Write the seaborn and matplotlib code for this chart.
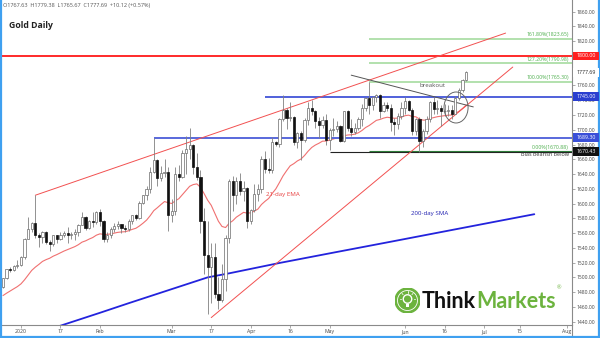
import numpy as np
import pandas as pd
import matplotlib
matplotlib.use("Agg")
import matplotlib.pyplot as plt
import matplotlib.transforms as mtransforms
from matplotlib.patches import Ellipse, Circle, Rectangle
from matplotlib.lines import Line2D
import seaborn as sns

# ---------------- data ----------------
holidays = ["2019-12-25", "2020-01-01"]
axis_dates = [d for d in pd.bdate_range("2019-12-24", "2020-08-07") if d.strftime("%Y-%m-%d") not in holidays]
n_bars = 130  # 2019-12-24 .. 2020-06-24

opens = [1486.5, 1499.0, 1511.0, 1510.5, 1515.0, 1517.0, 1528.0, 1552.0, 1566.0, 1574.0,
         1558.0, 1555.0, 1562.0, 1548.0, 1545.0, 1557.0, 1552.0, 1557.0, 1560.0, 1558.0,
         1558.5, 1562.0, 1571.0, 1582.0, 1567.0, 1576.0, 1575.0, 1589.0, 1577.0, 1552.0,
         1557.0, 1566.0, 1570.0, 1572.0, 1567.0, 1565.0, 1576.0, 1584.0, 1581.0, 1601.0,
         1611.0, 1620.0, 1643.0, 1659.0, 1634.0, 1642.0, 1643.0, 1585.0, 1590.0, 1640.0,
         1636.0, 1668.0, 1674.0, 1679.0, 1649.0, 1636.0, 1576.0, 1530.0, 1514.0, 1528.0,
         1477.0, 1470.0, 1498.0, 1553.0, 1631.0, 1611.0, 1630.0, 1617.0, 1621.0, 1577.0,
         1591.0, 1613.0, 1620.0, 1661.0, 1647.0, 1645.0, 1683.0, 1681.0, 1714.0, 1727.0,
         1716.0, 1717.0, 1683.0, 1695.0, 1686.0, 1713.0, 1730.0, 1726.0, 1712.0, 1706.0,
         1713.0, 1686.0, 1700.0, 1701.0, 1705.0, 1685.0, 1725.0, 1702.0, 1697.0, 1702.0,
         1715.0, 1730.0, 1743.0, 1733.0, 1745.0, 1747.0, 1726.0, 1734.0, 1729.0, 1710.0,
         1708.0, 1718.0, 1730.0, 1739.0, 1727.0, 1699.0, 1714.0, 1685.0, 1698.0, 1714.0,
         1737.0, 1728.0, 1730.0, 1725.0, 1726.0, 1727.0, 1722.0, 1743.0, 1754.0, 1767.63]
highs = [1499.5, 1512.0, 1514.5, 1516.5, 1524.0, 1529.0, 1553.0, 1582.0, 1575.0, 1611.3,
         1560.0, 1563.0, 1563.0, 1551.0, 1558.0, 1558.0, 1561.0, 1563.0, 1568.0, 1562.0,
         1566.0, 1573.0, 1588.0, 1582.5, 1578.0, 1589.0, 1589.5, 1592.0, 1577.5, 1562.0,
         1568.0, 1574.0, 1576.0, 1573.0, 1571.0, 1579.0, 1585.0, 1586.0, 1604.0, 1612.0,
         1624.0, 1649.0, 1689.3, 1661.0, 1651.0, 1660.0, 1649.0, 1606.0, 1649.0, 1652.0,
         1673.0, 1692.0, 1703.0, 1681.0, 1668.0, 1645.0, 1594.0, 1576.0, 1547.0, 1547.0,
         1500.0, 1518.0, 1558.0, 1633.0, 1637.0, 1636.0, 1641.0, 1631.0, 1623.0, 1592.0,
         1626.0, 1627.0, 1664.0, 1671.0, 1662.0, 1690.0, 1685.0, 1716.0, 1747.7, 1729.0,
         1738.0, 1718.0, 1697.0, 1698.0, 1716.0, 1738.0, 1740.0, 1727.0, 1717.0, 1718.0,
         1722.0, 1703.0, 1716.0, 1712.0, 1707.0, 1726.0, 1727.0, 1715.0, 1709.0, 1717.0,
         1735.0, 1745.0, 1765.3, 1746.0, 1748.0, 1748.0, 1737.0, 1737.0, 1735.0, 1716.0,
         1723.0, 1737.0, 1745.0, 1741.0, 1729.0, 1716.0, 1717.0, 1701.0, 1719.0, 1739.0,
         1745.0, 1740.0, 1733.0, 1735.0, 1734.0, 1733.0, 1746.0, 1756.0, 1769.0, 1779.38]
lows = [1485.5, 1498.0, 1507.5, 1509.0, 1513.0, 1516.0, 1524.5, 1552.0, 1562.0, 1553.0,
        1541.0, 1546.0, 1545.0, 1536.0, 1543.0, 1546.0, 1550.0, 1555.0, 1546.0, 1552.0,
        1550.0, 1556.0, 1571.0, 1564.0, 1566.0, 1568.0, 1572.0, 1570.0, 1548.0, 1548.0,
        1553.0, 1562.0, 1566.0, 1560.0, 1562.0, 1563.0, 1572.0, 1578.0, 1579.0, 1600.0,
        1605.0, 1615.0, 1642.0, 1624.0, 1630.0, 1636.0, 1563.0, 1575.0, 1585.0, 1630.0,
        1635.0, 1640.0, 1660.0, 1640.0, 1632.0, 1560.0, 1504.0, 1451.0, 1465.0, 1472.0,
        1457.0, 1466.0, 1482.0, 1547.0, 1590.0, 1600.0, 1612.0, 1603.0, 1567.0, 1572.0,
        1589.0, 1604.0, 1615.0, 1641.0, 1642.0, 1642.0, 1678.0, 1677.0, 1712.0, 1701.0,
        1712.0, 1680.0, 1675.0, 1659.0, 1683.0, 1707.0, 1720.0, 1703.0, 1689.0, 1702.0,
        1680.0, 1672.0, 1692.0, 1697.0, 1683.0, 1683.0, 1698.0, 1692.0, 1694.0, 1700.0,
        1705.0, 1726.0, 1722.0, 1727.0, 1737.0, 1716.0, 1724.0, 1725.0, 1698.0, 1693.0,
        1701.0, 1715.0, 1722.0, 1725.0, 1693.0, 1693.0, 1670.4, 1676.0, 1694.0, 1711.0,
        1721.0, 1722.0, 1705.0, 1719.0, 1719.0, 1715.0, 1721.0, 1740.0, 1751.0, 1765.67]
closes = [1498.9, 1511.0, 1510.5, 1515.0, 1517.0, 1528.0, 1552.0, 1566.0, 1574.0, 1558.0,
          1555.0, 1562.0, 1548.0, 1545.0, 1557.0, 1552.0, 1557.0, 1560.0, 1558.0, 1558.5,
          1562.0, 1571.0, 1582.0, 1567.0, 1576.0, 1575.0, 1589.0, 1577.0, 1552.0, 1557.0,
          1566.0, 1570.0, 1572.0, 1567.0, 1565.0, 1576.0, 1584.0, 1581.0, 1601.0, 1611.0,
          1620.0, 1643.0, 1659.0, 1634.0, 1642.0, 1643.0, 1585.0, 1590.0, 1640.0, 1636.0,
          1668.0, 1674.0, 1679.0, 1649.0, 1636.0, 1576.0, 1530.0, 1514.0, 1528.0, 1477.0,
          1470.0, 1498.0, 1553.0, 1631.0, 1611.0, 1630.0, 1617.0, 1621.0, 1577.0, 1591.0,
          1613.0, 1620.0, 1661.0, 1647.0, 1645.0, 1683.0, 1681.0, 1714.0, 1727.0, 1716.0,
          1717.0, 1683.0, 1695.0, 1686.0, 1713.0, 1730.0, 1726.0, 1712.0, 1706.0, 1713.0,
          1686.0, 1700.0, 1701.0, 1705.0, 1685.0, 1725.0, 1702.0, 1697.0, 1702.0, 1715.0,
          1730.0, 1743.0, 1733.0, 1745.0, 1747.0, 1726.0, 1734.0, 1729.0, 1710.0, 1708.0,
          1718.0, 1730.0, 1739.0, 1727.0, 1699.0, 1714.0, 1685.0, 1698.0, 1714.0, 1737.0,
          1728.0, 1730.0, 1725.0, 1726.0, 1727.0, 1722.0, 1743.0, 1754.0, 1767.6, 1777.69]

ema_seed = 1473.0
sma_dates = ["2020-01-08", "2020-01-17", "2020-02-03", "2020-02-13", "2020-02-28", "2020-03-16",
             "2020-03-24", "2020-04-13", "2020-05-04", "2020-05-26", "2020-06-16", "2020-07-07",
             "2020-07-21"]
sma_values = [1424.0, 1434.5, 1452.0, 1465.0, 1482.5, 1500.0, 1505.5, 1519.5, 1533.5, 1548.3,
              1562.3, 1576.3, 1585.6]

tick_dates = ["2020-01-02", "2020-01-17", "2020-02-03", "2020-03-02", "2020-03-17", "2020-04-01",
              "2020-04-16", "2020-05-01", "2020-06-01", "2020-06-16", "2020-07-01", "2020-07-15",
              "2020-08-03"]
tick_labels = ["2020", "17", "Feb", "Mar", "17", "Apr", "16", "May", "Jun", "16", "Jul", "15", "Aug"]

level_1800 = 1800.0
level_1745 = 1745.0
level_1689 = 1689.30
level_1670 = 1670.43
fib_levels = [1823.65, 1790.98, 1765.30]
fib_labels = ["161.80%(1823.65)", "127.20%(1790.98)", "100.00%(1765.30)"]
fib_zero = 1670.88
fib_zero_label = "0.00%(1670.88)"
last_price = 1777.69

upper_channel = [("2020-01-08", 1611.3), ("2020-07-09", 1831.0)]
lower_channel = [("2020-03-17", 1445.5), ("2020-07-13", 1785.0)]
breakout_line = [("2020-05-11", 1774.0), ("2020-06-26", 1731.0)]

header = "O1767.63  H1779.38  L1765.67  C1777.69  +10.12 (+0.57%)"

# ---------------- helpers ----------------
pos = {d.strftime("%Y-%m-%d"): i for i, d in enumerate(axis_dates)}
def P(d):
    return pos[d]

sns.set_theme(style="white")
plt.rcParams["font.family"] = ["Open Sans", "DejaVu Sans"]

W, H = 600, 338
fig = plt.figure(figsize=(W / 100, H / 100), dpi=100)
fig.patch.set_facecolor("white")
ax = fig.add_axes([2 / W, 13 / H, 570 / W, 325 / H])
ax.set_facecolor("white")
ax.set_xlim(-0.28, 158.5)
ax.set_ylim(1435.47, 1875.85)

x = np.arange(n_bars)
o = np.array(opens); h = np.array(highs); l = np.array(lows); c = np.array(closes)
bull = c >= o

# wicks
ax.vlines(x, l, h, color="#808080", lw=0.6, zorder=3)
# bodies
bw = 0.62
body_lo = np.minimum(o, c); body_h = np.maximum(np.abs(c - o), 0.6)
ax.bar(x[bull], body_h[bull], bottom=body_lo[bull], width=bw, color="white",
       edgecolor="#6a6a6a", linewidth=0.5, zorder=4)
ax.bar(x[~bull], body_h[~bull], bottom=body_lo[~bull], width=bw, color="#111111",
       edgecolor="#111111", linewidth=0.5, zorder=4)

# 21-day EMA
alpha = 2 / 22
ema = []
prev = ema_seed
for v in closes:
    prev = alpha * v + (1 - alpha) * prev
    ema.append(prev)
df_ema = pd.DataFrame({"x": x, "ema": ema})
sns.lineplot(data=df_ema, x="x", y="ema", color="#f07070", lw=0.8, ax=ax, zorder=2)

# 200-day SMA
df_sma = pd.DataFrame({"x": [P(d) for d in sma_dates], "sma": sma_values})
sns.lineplot(data=df_sma, x="x", y="sma", color="#2323dd", lw=1.3, ax=ax, zorder=2)

# horizontal levels
xmax = ax.get_xlim()[1]
ax.hlines(level_1800, -0.28, xmax, color="#ff2a2a", lw=1.4, zorder=2)
ax.hlines(level_1745, P("2020-04-07"), xmax, color="#3246d4", lw=1.2, zorder=2)
ax.hlines(level_1689, P("2020-02-24"), xmax, color="#5868dc", lw=1.4, zorder=2)
ax.hlines(level_1670, P("2020-05-01"), xmax, color="#222222", lw=0.8, zorder=2)
for lv in fib_levels:
    ax.hlines(lv, P("2020-05-18"), xmax, color="#a6dba0", lw=1.2, zorder=1.5)
ax.hlines(fib_zero, P("2020-05-18"), xmax, color="#2f7d3a", lw=0.8, zorder=2.1)

# trend lines
for line, col in [(upper_channel, "#f25050"), (lower_channel, "#f25050"), (breakout_line, "#555555")]:
    (d0, p0), (d1, p1) = line
    ax.plot([P(d0), P(d1)], [p0, p1], color=col, lw=0.7, zorder=2.5)

# ellipse around breakout
ax.add_patch(Ellipse((126.2, 1730.2), width=6.7, height=42, fill=False,
                     edgecolor="#666666", lw=0.7, zorder=5))

# fib labels
ytr = ax.get_yaxis_transform()
for lv, lab in zip(fib_levels, fib_labels):
    ax.text(0.9947, lv + 1.5, lab, transform=ytr, ha="right", va="bottom",
            fontsize=3.7, color="#4cae4c", zorder=6)
ax.text(0.9947, fib_zero + 1.5, fib_zero_label, transform=ytr, ha="right", va="bottom",
        fontsize=3.7, color="#4cae4c", zorder=6)

# axes styling
for s in ["left", "top"]:
    ax.spines[s].set_visible(False)
ax.spines["right"].set_color("#8a8a8a")
ax.spines["bottom"].set_color("#8a8a8a")
ax.spines["right"].set_linewidth(0.8)
ax.spines["bottom"].set_linewidth(0.8)
ax.yaxis.tick_right()
ax.set_yticks(np.arange(1440, 1861, 20))
ax.set_yticklabels([f"{v:.2f}" for v in np.arange(1440, 1861, 20)])
ax.set_xticks([P(d) for d in tick_dates])
ax.set_xticklabels(tick_labels)
ax.tick_params(axis="y", which="both", length=2, width=0.5, color="#888888", pad=1.5,
               labelsize=3.6, labelcolor="#444444", right=True, left=False)
ax.tick_params(axis="x", length=2, width=0.5, color="#888888", pad=1.2,
               labelsize=3.7, labelcolor="#444444", bottom=True)
ax.set_xlabel(""); ax.set_ylabel("")
ax.grid(False)

# ---------------- overlay texts ----------------
def fx(px):
    return px / W
def fy(py):
    return 1 - py / H

fig.text(fx(3), fy(6), header, fontsize=4.0, color="#555555", ha="left", va="center")
fig.text(fx(9), fy(25), "Gold Daily", fontsize=6.3, color="#222222", ha="left", va="center",
         fontweight="bold")
fig.text(fx(433), fy(85), "breakout", fontsize=4.4, color="#555555", ha="center", va="center")
fig.text(fx(283), fy(194), "21-day EMA", fontsize=4.4, color="#e84040", ha="center", va="center")
fig.text(fx(430), fy(213), "200-day SMA", fontsize=4.4, color="#2020b0", ha="center", va="center")
fig.text(fx(569), fy(151.5), "Bias bearish below", fontsize=4.0, color="#333333", ha="right", va="top")

# price boxes on the axis
btr = mtransforms.blended_transform_factory(fig.transFigure, ax.transData)
boxh = 8.5 / 0.738
for lv, txt, fc, tc in [(last_price, "1777.69", "white", "#222222"),
                        (level_1800, "1800.00", "#ff2020", "white"),
                        (level_1745, "1745.00", "#2a3fd0", "white"),
                        (level_1689, "1689.30", "#3a4fd8", "white"),
                        (level_1670, "1670.43", "#111111", "white")]:
    r = Rectangle((fx(573), lv - boxh / 2), fx(599) - fx(573), boxh, transform=btr,
                  facecolor=fc, edgecolor="none", clip_on=False, zorder=10)
    fig.add_artist(r)
    t = fig.text(fx(586), 0, txt, fontsize=3.8, color=tc, ha="center", va="center", zorder=11,
                 transform=btr)
    t.set_position((fx(586), lv))

# right spine extension into the date strip
fig.add_artist(Line2D([fx(572), fx(572)], [fy(325), fy(338)], color="#8a8a8a", lw=0.8))

# blue frame
for xs, ys in [([fx(0.8), fx(0.8)], [0, 1]), ([0, 1], [fy(337), fy(337)]),
               ([fx(599), fx(599)], [0, 1])]:
    fig.add_artist(Line2D(xs, ys, color="#3fa0f0", lw=1.6))

# ---------------- logo ----------------
green = "#6cb33e"
lax = fig.add_axes([fx(395), fy(313), 25 / W, 25 / H])
lax.set_xlim(-1, 1); lax.set_ylim(-1, 1); lax.axis("off")
lax.add_patch(Circle((0, 0), 1.0, color=green))
lax.add_patch(Circle((0, 0), 0.8, fill=False, ec="white", lw=0.6))
lax.add_patch(Circle((0, 0.12), 0.34, fill=False, ec="white", lw=1.0))
lax.add_patch(Rectangle((-0.14, -0.48), 0.28, 0.22, fc="white", ec="none"))
for ang in [90, 135, 45, 180, 0]:
    a = np.deg2rad(ang)
    lax.plot([0.5 * np.cos(a), 0.62 * np.cos(a)], [0.12 + 0.5 * np.sin(a), 0.12 + 0.62 * np.sin(a)],
             color="white", lw=0.6)

t1 = fig.text(fx(422), fy(301), "Think", fontsize=15.5, color="#111111", ha="left",
              va="center", family=["Lato", "DejaVu Sans"], fontweight="bold")
fig.canvas.draw()
bb = t1.get_window_extent(fig.canvas.get_renderer())
t2 = fig.text(bb.x1 / W, fy(301), "Markets", fontsize=15.5, color=green, ha="left",
              va="center", family=["Lato", "DejaVu Sans"], fontweight="bold")
fig.canvas.draw()
bb2 = t2.get_window_extent(fig.canvas.get_renderer())
fig.text(bb2.x1 / W + 0.002, fy(288), "®", fontsize=4, color=green, ha="left", va="center")

fig.savefig("out.png", dpi=100, facecolor="white")
